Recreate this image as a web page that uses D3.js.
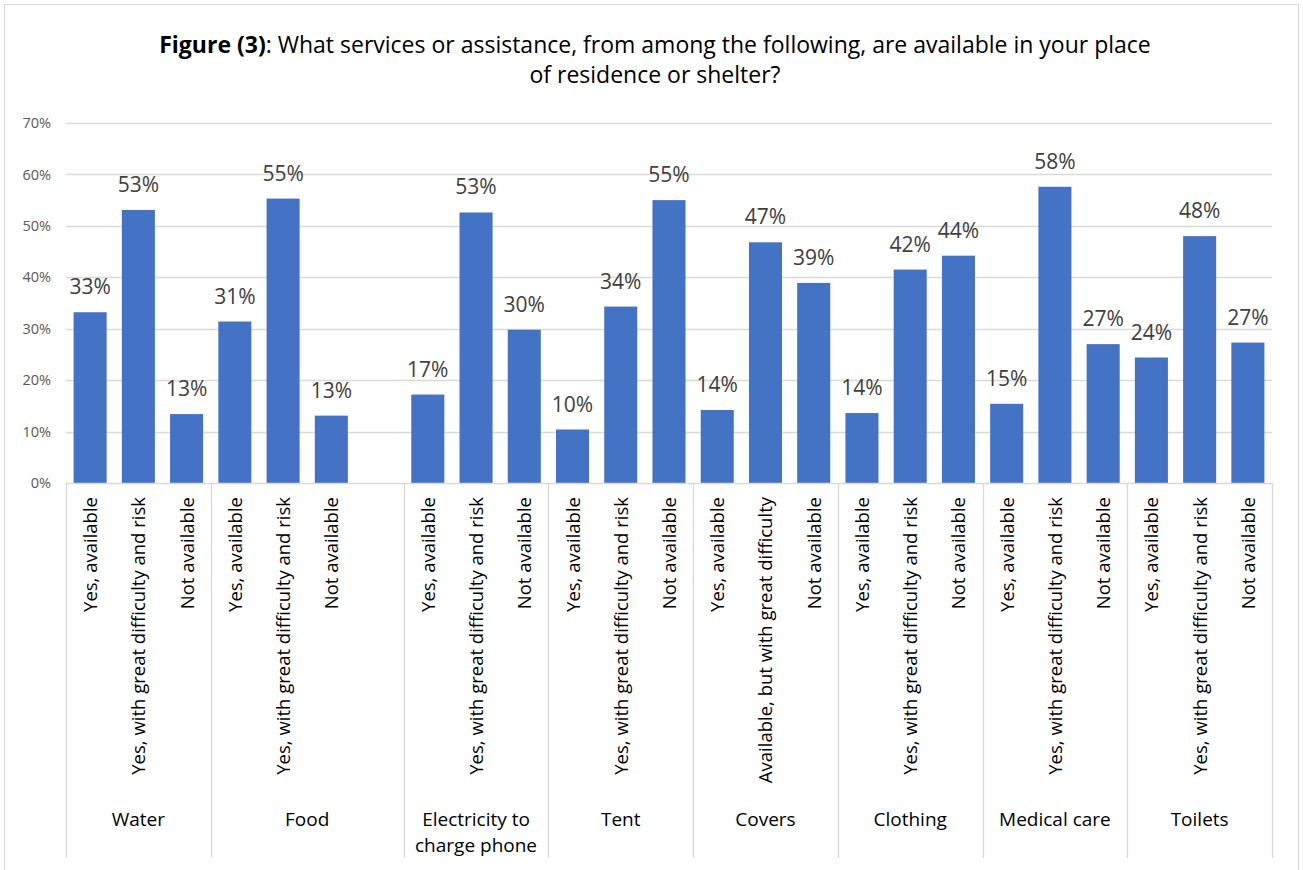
<!DOCTYPE html>
<html>
<head>
<meta charset="utf-8">
<script src="https://cdn.jsdelivr.net/npm/d3@7"></script>
<style>
  html, body { margin: 0; padding: 0; background: #fff; }
  svg { display: block; font-family: "Open Sans", "Liberation Sans", sans-serif; }
</style>
</head>
<body>
<svg id="chart" width="1303" height="870"></svg>
<script>
// ---- data ----
const groups = ["Water", "Food", "Electricity to charge phone", "Tent", "Covers", "Clothing", "Medical care", "Toilets"];
const groupLines = [["Water"], ["Food"], ["Electricity to", "charge phone"], ["Tent"], ["Covers"], ["Clothing"], ["Medical care"], ["Toilets"]];
const subcategories = [
  ["Yes, available", "Yes, with great difficulty and risk", "Not available"],
  ["Yes, available", "Yes, with great difficulty and risk", "Not available", ""],
  ["Yes, available", "Yes, with great difficulty and risk", "Not available"],
  ["Yes, available", "Yes, with great difficulty and risk", "Not available"],
  ["Yes, available", "Available, but with great difficulty", "Not available"],
  ["Yes, available", "Yes, with great difficulty and risk", "Not available"],
  ["Yes, available", "Yes, with great difficulty and risk", "Not available"],
  ["Yes, available", "Yes, with great difficulty and risk", "Not available"]
];
const values = [
  [0.332, 0.531, 0.134],
  [0.314, 0.553, 0.131, null],
  [0.172, 0.526, 0.298],
  [0.104, 0.343, 0.550],
  [0.142, 0.468, 0.389],
  [0.136, 0.415, 0.442],
  [0.154, 0.576, 0.270],
  [0.244, 0.480, 0.273]
];
const yTicks = [0, 0.1, 0.2, 0.3, 0.4, 0.5, 0.6, 0.7];
const titleBold = "Figure (3)";
const titleRest1 = ": What services or assistance, from among the following, are available in your place";
const titleLine2 = "of residence or shelter?";

// ---- flatten ----
const slots = [];
groups.forEach((g, gi) => {
  subcategories[gi].forEach((s, si) => {
    slots.push({ key: gi + "-" + si, group: gi, label: s, value: values[gi][si] });
  });
});

const svg = d3.select("#chart");
const plotLeft = 66, plotRight = 1272, plotTop = 123, plotBase = 483;

// outer border
svg.append("rect").attr("x", 4.5).attr("y", 4.5).attr("width", 1294).attr("height", 880)
  .attr("fill", "#fff").attr("stroke", "#d9d9d9").attr("stroke-width", 1);

// title
const title = svg.append("text").attr("x", 655).attr("y", 53).attr("text-anchor", "middle")
  .attr("font-size", 23).attr("fill", "#000");
title.append("tspan").attr("font-weight", "bold").text(titleBold);
title.append("tspan").text(titleRest1);
svg.append("text").attr("x", 655).attr("y", 83).attr("text-anchor", "middle")
  .attr("font-size", 23).attr("fill", "#000").text(titleLine2);

const x = d3.scaleBand().domain(slots.map(d => d.key)).range([plotLeft, plotRight])
  .paddingInner(0.315).paddingOuter(0.1575);
const y = d3.scaleLinear().domain([0, 0.7]).range([plotBase, plotTop]);

// gridlines
svg.append("g").selectAll("line").data(yTicks.slice(1)).join("line")
  .attr("x1", plotLeft).attr("x2", plotRight)
  .attr("y1", d => Math.round(y(d)) + 0.5).attr("y2", d => Math.round(y(d)) + 0.5)
  .attr("stroke", "#d9d9d9").attr("stroke-width", 1.3);

// y axis labels
const yAxis = svg.append("g").attr("transform", `translate(${plotLeft},0)`)
  .call(d3.axisLeft(y).tickValues(yTicks).tickFormat(d3.format(".0%")).tickSize(0).tickPadding(15));
yAxis.select(".domain").remove();
yAxis.selectAll("text").attr("font-size", 14.5).attr("fill", "#595959")
  .attr("font-family", "'Open Sans', sans-serif");

// bars
const barData = slots.filter(d => d.value != null);
svg.append("g").selectAll("rect").data(barData).join("rect")
  .attr("x", d => x(d.key)).attr("width", x.bandwidth())
  .attr("y", d => y(d.value)).attr("height", d => y(0) - y(d.value))
  .attr("fill", "#4472c4");

// data labels
svg.append("g").selectAll("text").data(barData).join("text")
  .attr("x", d => x(d.key) + x.bandwidth() / 2).attr("y", d => y(d.value) - 18)
  .attr("text-anchor", "middle").attr("font-size", 21).attr("fill", "#404040")
  .text(d => d3.format(".0%")(d.value));

// category axis line
svg.append("line").attr("x1", plotLeft).attr("x2", plotRight).attr("y1", plotBase + 0.5).attr("y2", plotBase + 0.5)
  .attr("stroke", "#d9d9d9").attr("stroke-width", 1.3);

// group dividers
const step = x.step();
const boundaries = [];
let idx = 0;
boundaries.push(plotLeft);
subcategories.forEach(sc => { idx += sc.length; boundaries.push(plotLeft + idx * step); });
svg.append("g").selectAll("line").data(boundaries).join("line")
  .attr("x1", d => Math.round(d) + 0.5).attr("x2", d => Math.round(d) + 0.5)
  .attr("y1", plotBase).attr("y2", 858)
  .attr("stroke", "#d9d9d9").attr("stroke-width", 1.3);

// subcategory labels (rotated)
svg.append("g").selectAll("text").data(slots.filter(d => d.label)).join("text")
  .attr("transform", d => `translate(${x(d.key) + x.bandwidth() / 2 + 7},497) rotate(-90)`)
  .attr("text-anchor", "end").attr("font-size", 18.5).attr("fill", "#000")
  .text(d => d.label);

// group labels
const gl = svg.append("g").selectAll("text").data(groups).join("text")
  .attr("x", (d, i) => (boundaries[i] + boundaries[i + 1]) / 2)
  .attr("y", 826).attr("text-anchor", "middle").attr("font-size", 19).attr("fill", "#000");
gl.each(function(d, i) {
  d3.select(this).selectAll("tspan").data(groupLines[i]).join("tspan")
    .attr("x", (boundaries[i] + boundaries[i + 1]) / 2)
    .attr("dy", (t, j) => j === 0 ? 0 : 26)
    .text(t => t);
});
</script>
</body>
</html>
